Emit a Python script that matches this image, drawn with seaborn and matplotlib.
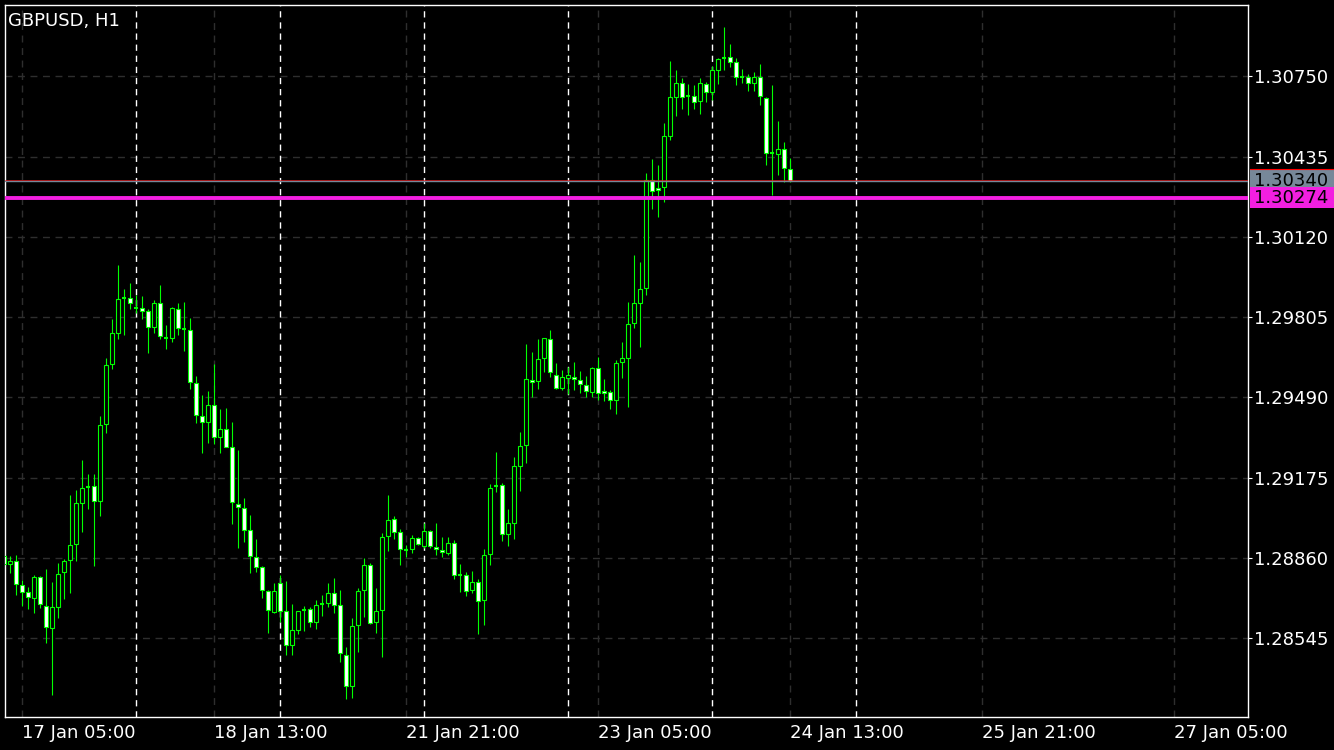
import matplotlib
matplotlib.use('Agg')
import matplotlib.pyplot as plt
import matplotlib.transforms as mtransforms
from matplotlib.patches import Rectangle
import numpy as np
import seaborn as sns

# GBPUSD H1 bars, 17 Jan 02:00 .. 24 Jan 13:00 (one bar per hour, weekend skipped)
opens = [1.28868, 1.28835, 1.28848, 1.28753, 1.28725, 1.28702, 1.28784, 1.28673, 1.28584, 1.28669,
         1.28804, 1.28851, 1.28914, 1.29077, 1.29140, 1.29142, 1.29085, 1.29384, 1.29620, 1.29741,
         1.29879, 1.29879, 1.29842, 1.29840, 1.29828, 1.29765, 1.29859, 1.29722, 1.29722, 1.29838,
         1.29759, 1.29754, 1.29545, 1.29416, 1.29392, 1.29459, 1.29334, 1.29365, 1.29294, 1.29073,
         1.29055, 1.28969, 1.28863, 1.28823, 1.28729, 1.28649, 1.28761, 1.28651, 1.28517, 1.28578,
         1.28656, 1.28659, 1.28608, 1.28679, 1.28684, 1.28721, 1.28675, 1.28478, 1.28356, 1.28596,
         1.28733, 1.28831, 1.28610, 1.28655, 1.28945, 1.29012, 1.28961, 1.28890, 1.28894, 1.28938,
         1.28906, 1.28965, 1.28903, 1.28890, 1.28878, 1.28917, 1.28794, 1.28794, 1.28733, 1.28765,
         1.28694, 1.28874, 1.29143, 1.29145, 1.28954, 1.28996, 1.29220, 1.29302, 1.29560, 1.29553,
         1.29643, 1.29718, 1.29579, 1.29527, 1.29565, 1.29571, 1.29557, 1.29537, 1.29510, 1.29604,
         1.29514, 1.29510, 1.29481, 1.29628, 1.29643, 1.29781, 1.29862, 1.29920, 1.30343, 1.30311,
         1.30315, 1.30517, 1.30668, 1.30723, 1.30673, 1.30674, 1.30652, 1.30719, 1.30688, 1.30776,
         1.30823, 1.30825, 1.30805, 1.30748, 1.30749, 1.30723, 1.30746, 1.30664, 1.30448, 1.30444,
         1.30463, 1.30385]
highs = [1.28880, 1.28868, 1.28871, 1.28774, 1.28745, 1.28793, 1.28789, 1.28815, 1.28766, 1.28839,
         1.28854, 1.29107, 1.29127, 1.29244, 1.29189, 1.29189, 1.29417, 1.29643, 1.29796, 1.30010,
         1.29914, 1.29938, 1.29892, 1.29888, 1.29837, 1.29872, 1.29932, 1.29773, 1.29844, 1.29859,
         1.29864, 1.29800, 1.29574, 1.29499, 1.29515, 1.29621, 1.29443, 1.29448, 1.29393, 1.29284,
         1.29096, 1.29028, 1.28934, 1.28828, 1.28735, 1.28762, 1.28792, 1.28770, 1.28679, 1.28653,
         1.28672, 1.28666, 1.28695, 1.28715, 1.28762, 1.28781, 1.28734, 1.28511, 1.28624, 1.28742,
         1.28860, 1.28839, 1.28742, 1.28957, 1.29107, 1.29025, 1.28972, 1.28910, 1.28950, 1.28942,
         1.28996, 1.28968, 1.28996, 1.28941, 1.28941, 1.28930, 1.28836, 1.28805, 1.28807, 1.28776,
         1.28894, 1.29150, 1.29276, 1.29154, 1.29051, 1.29256, 1.29354, 1.29699, 1.29668, 1.29720,
         1.29724, 1.29755, 1.29624, 1.29598, 1.29611, 1.29629, 1.29593, 1.29574, 1.29611, 1.29648,
         1.29561, 1.29519, 1.29638, 1.29707, 1.29864, 1.30049, 1.30021, 1.30371, 1.30425, 1.30402,
         1.30567, 1.30810, 1.30775, 1.30743, 1.30720, 1.30716, 1.30743, 1.30728, 1.30792, 1.30823,
         1.30944, 1.30877, 1.30821, 1.30778, 1.30759, 1.30767, 1.30798, 1.30668, 1.30714, 1.30575,
         1.30494, 1.30429]
lows = [1.28828, 1.28802, 1.28715, 1.28672, 1.28659, 1.28645, 1.28664, 1.28526, 1.28322, 1.28626,
        1.28699, 1.28724, 1.28848, 1.28963, 1.29052, 1.28828, 1.29025, 1.29349, 1.29603, 1.29720,
        1.29735, 1.29837, 1.29822, 1.29799, 1.29665, 1.29741, 1.29718, 1.29679, 1.29709, 1.29735,
        1.29674, 1.29522, 1.29391, 1.29271, 1.29312, 1.29307, 1.29273, 1.29294, 1.28994, 1.28900,
        1.28924, 1.28802, 1.28806, 1.28704, 1.28567, 1.28645, 1.28610, 1.28479, 1.28479, 1.28562,
        1.28573, 1.28590, 1.28583, 1.28632, 1.28669, 1.28645, 1.28453, 1.28306, 1.28310, 1.28492,
        1.28630, 1.28601, 1.28564, 1.28470, 1.28889, 1.28936, 1.28833, 1.28863, 1.28878, 1.28911,
        1.28899, 1.28900, 1.28871, 1.28865, 1.28872, 1.28776, 1.28725, 1.28712, 1.28721, 1.28560,
        1.28596, 1.28833, 1.29119, 1.28927, 1.28905, 1.28936, 1.29124, 1.29234, 1.29493, 1.29524,
        1.29591, 1.29571, 1.29522, 1.29519, 1.29503, 1.29519, 1.29509, 1.29493, 1.29493, 1.29481,
        1.29477, 1.29446, 1.29426, 1.29568, 1.29453, 1.29764, 1.29686, 1.29893, 1.30231, 1.30196,
        1.30258, 1.30501, 1.30595, 1.30623, 1.30599, 1.30623, 1.30603, 1.30649, 1.30657, 1.30721,
        1.30775, 1.30788, 1.30716, 1.30724, 1.30691, 1.30694, 1.30638, 1.30400, 1.30284, 1.30364,
        1.30337, 1.30336]
closes = [1.28836, 1.28847, 1.28757, 1.28725, 1.28706, 1.28784, 1.28678, 1.28588, 1.28666, 1.28796,
          1.28848, 1.28910, 1.29075, 1.29133, 1.29140, 1.29085, 1.29380, 1.29616, 1.29741, 1.29875,
          1.29879, 1.29859, 1.29842, 1.29830, 1.29765, 1.29859, 1.29731, 1.29722, 1.29840, 1.29761,
          1.29759, 1.29549, 1.29420, 1.29392, 1.29459, 1.29334, 1.29365, 1.29296, 1.29078, 1.29059,
          1.28971, 1.28867, 1.28826, 1.28734, 1.28655, 1.28729, 1.28651, 1.28517, 1.28576, 1.28651,
          1.28656, 1.28608, 1.28675, 1.28679, 1.28721, 1.28675, 1.28486, 1.28356, 1.28592, 1.28729,
          1.28831, 1.28606, 1.28651, 1.28941, 1.29008, 1.28963, 1.28894, 1.28890, 1.28937, 1.28914,
          1.28965, 1.28906, 1.28894, 1.28882, 1.28917, 1.28792, 1.28794, 1.28729, 1.28765, 1.28690,
          1.28871, 1.29133, 1.29143, 1.28954, 1.28997, 1.29220, 1.29298, 1.29561, 1.29549, 1.29639,
          1.29722, 1.29588, 1.29527, 1.29569, 1.29577, 1.29561, 1.29541, 1.29514, 1.29604, 1.29506,
          1.29506, 1.29481, 1.29624, 1.29643, 1.29777, 1.29859, 1.29916, 1.30342, 1.30298, 1.30302,
          1.30515, 1.30668, 1.30723, 1.30668, 1.30673, 1.30649, 1.30723, 1.30687, 1.30774, 1.30816,
          1.30823, 1.30808, 1.30746, 1.30748, 1.30725, 1.30746, 1.30671, 1.30449, 1.30448, 1.30463,
          1.30389, 1.30340]

price_ticks = [1.28545, 1.28860, 1.29175, 1.29490, 1.29805, 1.30120, 1.30435, 1.30750]
time_tick_bars = [3, 35, 67, 99, 131, 163, 195]
time_tick_labels = ['17 Jan 05:00', '18 Jan 13:00', '21 Jan 21:00', '23 Jan 05:00',
                    '24 Jan 13:00', '25 Jan 21:00', '27 Jan 05:00']
day_separators = [22, 46, 70, 94, 118, 142]
bid_price = 1.30340
ask_price = 1.30345
hline_price = 1.30274

GREEN = '#00ff00'
GRID = '#2e2e2e'
BID_GRAY = '#778899'
MAGENTA = '#f21fe0'

sns.set_style('dark', {'axes.facecolor': 'black', 'figure.facecolor': 'black'})
plt.rcParams['font.family'] = ['DejaVu Sans']
plt.rcParams['lines.scale_dashes'] = False

fig = plt.figure(figsize=(13.34, 7.5), dpi=100)
fig.patch.set_facecolor('black')
ax = fig.add_axes([5 / 1334, 33 / 750, 1243 / 1334, 712 / 750])
ax.set_facecolor('black')

o = np.array(opens)
h = np.array(highs)
l = np.array(lows)
c = np.array(closes)
x = np.arange(len(o))

# grid + day separators
for xv in time_tick_bars:
    ax.axvline(xv, color=GRID, lw=1, ls=(0, (5, 4)), zorder=1)
for yv in price_ticks:
    ax.axhline(yv, color=GRID, lw=1, ls=(0, (5, 4)), zorder=1)
for xv in day_separators:
    ax.axvline(xv, color='white', lw=1, ls=(0, (4.5, 3.5)), zorder=2)

# candles
ax.vlines(x, l, h, color=GREEN, lw=0.8, zorder=3)
up = c > o
down = c < o
flat = c == o
lo = np.minimum(o, c)
ht = np.abs(c - o)
ax.bar(x[up], ht[up], bottom=lo[up], width=0.62, color='black', edgecolor=GREEN,
       linewidth=0.8, zorder=4)
ax.bar(x[down], ht[down], bottom=lo[down], width=0.62, color='white', edgecolor=GREEN,
       linewidth=0.8, zorder=4)
ax.hlines(o[flat], x[flat] - 0.38, x[flat] + 0.38, color=GREEN, lw=1.5, zorder=4)

# price lines
ax.axhline(ask_price, color='red', lw=0.5, zorder=5)
ax.axhline(bid_price, color=BID_GRAY, lw=1, zorder=6)
ax.axhline(hline_price, color=MAGENTA, lw=2.8, zorder=6)

ax.set_xlim((5 - 4) / 6, (1248 - 4) / 6)
ax.set_ylim(1.282359, 1.310298)

# axes look
for sp in ax.spines.values():
    sp.set_color('white')
    sp.set_linewidth(1)
    sp.set_visible(True)
ax.grid(False)

ax.yaxis.tick_right()
ax.set_yticks(price_ticks)
ax.set_yticklabels(['%.5f' % v for v in price_ticks])
ax.set_xticks(time_tick_bars)
ax.set_xticklabels(time_tick_labels, ha='left')
ax.tick_params(axis='both', colors='white', labelsize=13, length=3, width=0.8,
               direction='out')
ax.tick_params(axis='y', pad=1.5)
ax.tick_params(axis='x', pad=2)

# price labels on the right scale
trans = mtransforms.blended_transform_factory(ax.transAxes, ax.transData)
px = (1.310298 - 1.282359) / 712
x0 = 1245 / 1243
w = (1334 - 1250) / 1243
ax.add_patch(Rectangle((x0, bid_price - 6.5 * px), w, 18.5 * px, transform=trans,
                       facecolor=BID_GRAY, edgecolor='none', clip_on=False, zorder=6))
ax.plot([x0, x0 + w], [bid_price + 12 * px] * 2, transform=trans, color='red', lw=0.8,
        clip_on=False, zorder=7)
ax.text(1249 / 1243, bid_price, '%.5f' % bid_price, transform=trans, color='black',
        fontsize=13, va='center', ha='left', clip_on=False, zorder=7)
ax.add_patch(Rectangle((x0, hline_price - 10.3 * px), w, 20.6 * px, transform=trans,
                       facecolor=MAGENTA, edgecolor='none', clip_on=False, zorder=8))
ax.text(1249 / 1243, hline_price, '%.5f' % hline_price, transform=trans, color='black',
        fontsize=13, va='center', ha='left', clip_on=False, zorder=9)

fig.text(8 / 1334, 1 - 26 / 750, 'GBPUSD, H1', color='white', fontsize=13,
         ha='left', va='baseline')

fig.savefig('out.png', dpi=100, facecolor='black')
